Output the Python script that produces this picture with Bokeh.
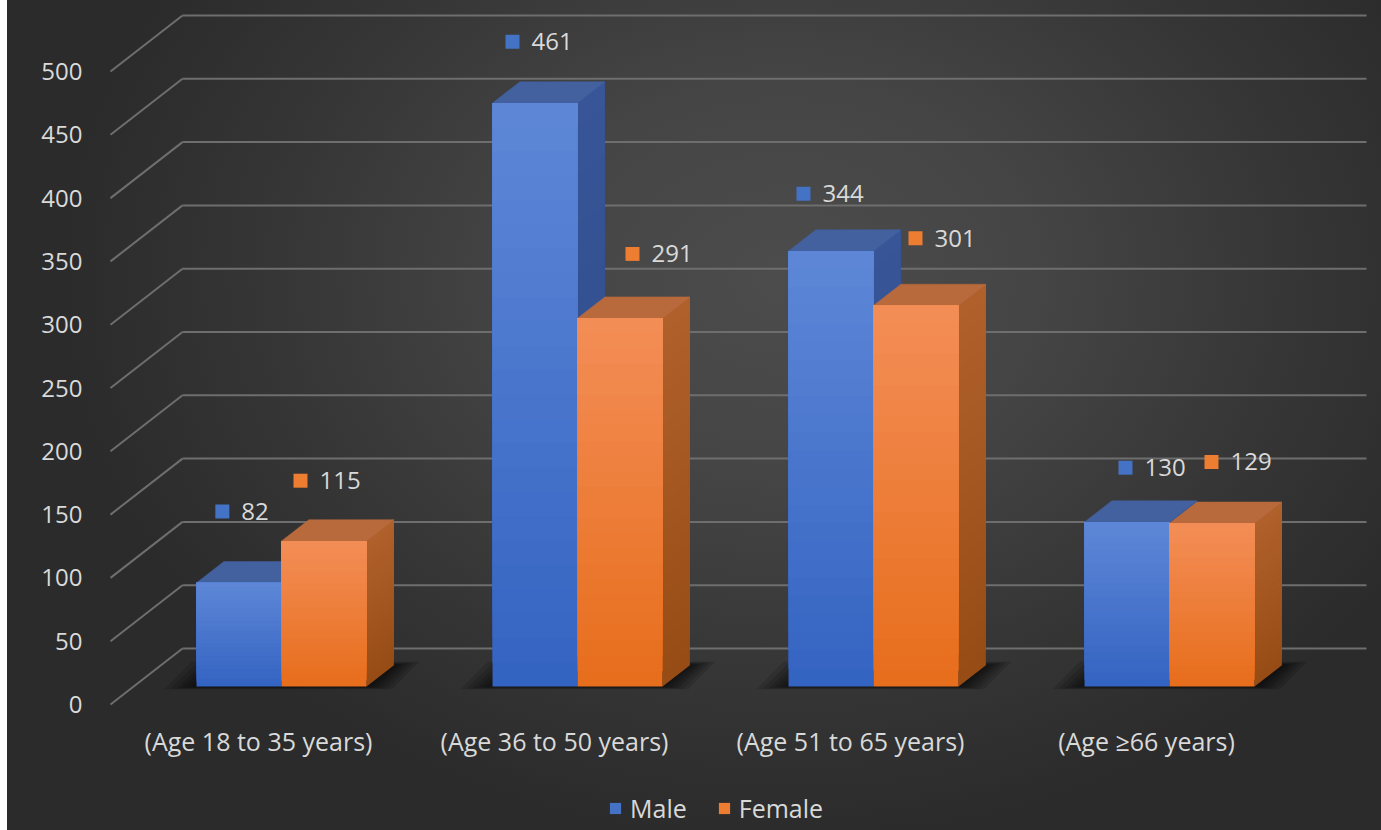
import numpy as np
from bokeh.plotting import figure
from bokeh.models import Range1d, LinearAxis, FixedTicker, Legend, LegendItem, ColumnDataSource
from bokeh.core.properties import value
from bokeh.embed import file_html
from bokeh.resources import INLINE

# ---- data -------------------------------------------------------------
categories = ["(Age 18 to 35 years)", "(Age 36 to 50 years)",
              "(Age 51 to 65 years)", "(Age \u226566 years)"]
male = [82, 461, 344, 130]
female = [115, 291, 301, 129]
series_names = ["Male", "Female"]
value_ticks = [0, 50, 100, 150, 200, 250, 300, 350, 400, 450, 500]

# ---- styling ----------------------------------------------------------
FONT = "Open Sans"
TEXT = "#d9d9d9"
GRID = "#6e6e6e"
LABEL_SQUARE = ["#4472c4", "#ed7d31"]
FRONT_TOP = ["#5d86d6", "#f38d56"]
FRONT_BOTTOM = ["#3464c2", "#e76e1c"]
TOP_FACE = ["#42619e", "#b86a3d"]
SIDE_TOP = ["#385697", "#b0612b"]
SIDE_BOTTOM = ["#2c4987", "#974c16"]

# per-label nudges (screen px) so value labels sit clear of each other
male_nudge = [(3, -50), (4, -40), (-1, -36), (25, -33)]
female_nudge = [(3, -39), (39, -43), (26, -46), (26, -40)]

# ---- frame and projection --------------------------------------------
FIG_W, FIG_H = 1374, 830
BORDER_L = 101
PX_X = 296.0      # screen px per category slot
PX_Y = 1.266      # screen px per unit of value
ZERO_PX = 704     # screen row of value 0 on the front edge of the floor

x_start = -2 / PX_X
x_end = x_start + (FIG_W - BORDER_L) / PX_X
y_end = ZERO_PX / PX_Y
y_start = y_end - FIG_H / PX_Y

# oblique depth: going fully back into the chart shifts 72px right, 56px up
DEPTH_X = 72 / PX_X
DEPTH_Y = 56 / PX_Y
D_FRONT, D_BACK = 0.32, 0.70
BAR_W = 85 / PX_X
N_SLICES = 24

p = figure(width=FIG_W, height=FIG_H,
           x_range=Range1d(x_start, x_end), y_range=Range1d(y_start, y_end),
           x_axis_type=None, y_axis_type=None,
           output_backend="svg", toolbar_location=None,
           min_border_left=BORDER_L, min_border_right=0,
           min_border_top=0, min_border_bottom=0,
           background_fill_color=None, border_fill_color=None,
           outline_line_color=None)
p.styles = {
    "margin-left": "7px",
    "background": "radial-gradient(ellipse 720px 560px at 775px 280px, "
                  "#4c4c4c 0%, #454545 35%, #363636 70%, #2b2b2b 100%)",
}

# ---- axes ------------------------------------------------------------
yaxis = LinearAxis(ticker=FixedTicker(ticks=value_ticks))
xaxis = LinearAxis(ticker=FixedTicker(ticks=[i + 0.5 for i in range(len(categories))]),
                   major_label_overrides={i + 0.5: c for i, c in enumerate(categories)},
                   fixed_location=-8 / PX_Y)
for ax, standoff, size in ((yaxis, 20, "24px"), (xaxis, 5, "25px")):
    ax.axis_line_color = None
    ax.major_tick_line_color = None
    ax.minor_tick_line_color = None
    ax.major_label_text_color = TEXT
    ax.major_label_text_font = FONT
    ax.major_label_text_font_size = size
    ax.major_label_standoff = standoff
p.add_layout(yaxis, "left")
p.add_layout(xaxis, "below")

# ---- walls: floor-edge diagonals and back-wall gridlines --------------
n_cat = len(categories)
t = np.array(value_ticks, dtype=float)
p.segment(x0=np.zeros_like(t), y0=t, x1=np.full_like(t, DEPTH_X), y1=t + DEPTH_Y,
          line_color=GRID, line_width=2)
p.segment(x0=np.full_like(t, DEPTH_X), y0=t + DEPTH_Y,
          x1=np.full_like(t, n_cat + DEPTH_X), y1=t + DEPTH_Y,
          line_color=GRID, line_width=2)

ddx = (D_BACK - D_FRONT) * DEPTH_X
ddy = (D_BACK - D_FRONT) * DEPTH_Y
base = D_FRONT * DEPTH_Y

# ---- soft floor shadows around the footprint of each pair of bars -----
for grow in (32, 26, 20, 15, 10, 5):
    gx = grow / PX_X
    xs, ys = [], []
    for i in range(n_cat):
        xl = i + 0.5 - BAR_W + D_FRONT * DEPTH_X - gx
        xr = i + 0.5 + BAR_W + D_FRONT * DEPTH_X + gx * 0.8
        lo = base - grow * 0.08 / PX_Y
        hi = base + ddy + grow * 0.12 / PX_Y
        xs.append([xl, xr, xr + ddx, xl + ddx])
        ys.append([lo, lo, hi, hi])
    p.patches(xs=xs, ys=ys, fill_color="black", fill_alpha=0.13, line_color=None)


def blend(c0, c1, n):
    a = np.array([int(c0[k:k + 2], 16) for k in (1, 3, 5)], dtype=float)
    b = np.array([int(c1[k:k + 2], 16) for k in (1, 3, 5)], dtype=float)
    out = []
    for f in np.linspace(0, 1, n):
        r, g, bb = a + (b - a) * f
        out.append("#%02x%02x%02x" % (round(r), round(g), round(bb)))
    return out


for s, vals in enumerate((male, female)):
    front = dict(left=[], right=[], bottom=[], top=[], color=[])
    side = dict(xs=[], ys=[], color=[])
    topf = dict(xs=[], ys=[])
    cols_front = blend(FRONT_BOTTOM[s], FRONT_TOP[s], N_SLICES)
    cols_side = blend(SIDE_BOTTOM[s], SIDE_TOP[s], N_SLICES)
    for i, v in enumerate(vals):
        xl = i + 0.5 - BAR_W + s * BAR_W + D_FRONT * DEPTH_X
        xr = xl + BAR_W
        yt = base + v
        edges = np.linspace(base, yt, N_SLICES + 1)
        # each band runs to the top of the bar; later bands cover the upper part,
        # which leaves no seams between neighbouring bands
        for k in range(N_SLICES):
            lo = edges[k]
            front["left"].append(xl)
            front["right"].append(xr)
            front["bottom"].append(lo)
            front["top"].append(yt)
            front["color"].append(cols_front[k])
            side["xs"].append([xr, xr + ddx, xr + ddx, xr])
            side["ys"].append([lo, lo + ddy, yt + ddy, yt])
            side["color"].append(cols_side[k])
        topf["xs"].append([xl, xr, xr + ddx, xl + ddx])
        topf["ys"].append([yt, yt, yt + ddy, yt + ddy])
    p.patches(xs="xs", ys="ys", source=ColumnDataSource(side),
              fill_color="color", line_color=None)
    p.patches(xs="xs", ys="ys", source=ColumnDataSource(topf),
              fill_color=TOP_FACE[s], line_color=TOP_FACE[s], line_width=0.5)
    p.quad(left="left", right="right", bottom="bottom", top="top",
           source=ColumnDataSource(front), fill_color="color", line_color=None)

# ---- value labels: coloured square + number above each bar -----------
DIGIT_W = 13.7
for s, (vals, nudges) in enumerate(((male, male_nudge), (female, female_nudge))):
    lab = dict(x=[], y=[], text=[], xoff=[], sq_x=[])
    for i, v in enumerate(vals):
        xl = i + 0.5 - BAR_W + s * BAR_W + D_FRONT * DEPTH_X
        ax = xl + BAR_W / 2 + nudges[i][0] / PX_X
        ay = D_BACK * DEPTH_Y + v - nudges[i][1] / PX_Y
        txt = str(v)
        total = 26 + DIGIT_W * len(txt)
        lab["x"].append(ax)
        lab["y"].append(ay)
        lab["text"].append(txt)
        lab["xoff"].append(-total / 2 + 26)
        lab["sq_x"].append(ax + (-total / 2 + 7) / PX_X)
    src = ColumnDataSource(lab)
    p.scatter(x="sq_x", y="y", source=src, marker="square", size=14,
              fill_color=LABEL_SQUARE[s], line_color=None)
    p.text(x="x", y="y", text="text", x_offset="xoff", source=src,
           text_font=value(FONT), text_font_size="24px", text_color=TEXT,
           text_align="left", text_baseline="middle")

# ---- legend at the foot of the chart ----------------------------------
# zero-area swatch renderers: they only lend their fill to the legend keys
legend_items = []
for s, name in enumerate(series_names):
    r = p.quad(left=[0], right=[0], bottom=[0], top=[0],
               fill_color=LABEL_SQUARE[s], line_color=None)
    legend_items.append(LegendItem(label=name, renderers=[r]))
legend = Legend(items=legend_items, orientation="horizontal",
                location=(500, 5),
                glyph_width=14, glyph_height=14, label_standoff=8, spacing=30,
                padding=0, margin=0, border_line_color=None,
                background_fill_alpha=0, label_text_color=TEXT,
                label_text_font=FONT, label_text_font_size="25px")
p.add_layout(legend)

open("out.html", "w").write(file_html(p, INLINE))
